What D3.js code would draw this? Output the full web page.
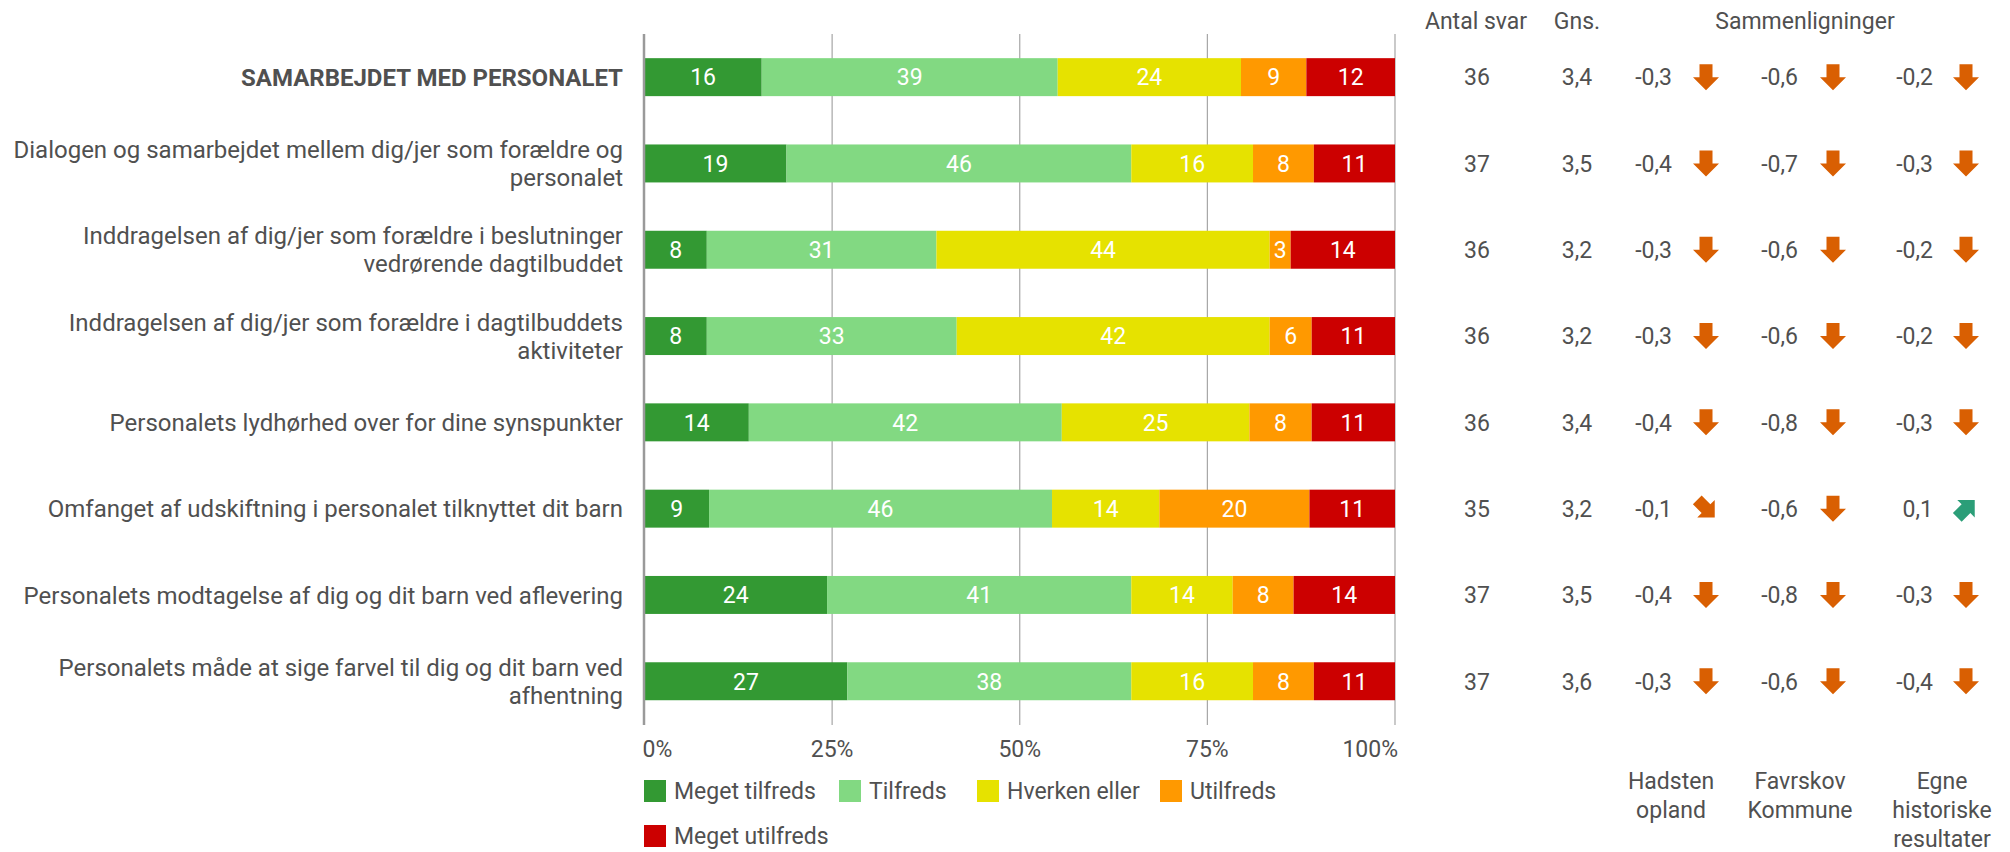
<!DOCTYPE html>
<html><head><meta charset="utf-8">
<script src="https://cdn.jsdelivr.net/npm/d3@7"></script>
<style>
body{margin:0;background:#fff;}
text{font-family:Roboto,"Noto Sans",sans-serif;}
</style></head>
<body>
<svg id="chart" width="2010" height="852"></svg>
<script>
const categories = [
  ["SAMARBEJDET MED PERSONALET"],
  ["Dialogen og samarbejdet mellem dig/jer som forældre og","personalet"],
  ["Inddragelsen af dig/jer som forældre i beslutninger","vedrørende dagtilbuddet"],
  ["Inddragelsen af dig/jer som forældre i dagtilbuddets","aktiviteter"],
  ["Personalets lydhørhed over for dine synspunkter"],
  ["Omfanget af udskiftning i personalet tilknyttet dit barn"],
  ["Personalets modtagelse af dig og dit barn ved aflevering"],
  ["Personalets måde at sige farvel til dig og dit barn ved","afhentning"]
];
const seriesNames = ["Meget tilfreds","Tilfreds","Hverken eller","Utilfreds","Meget utilfreds"];
// shares in percent (bar lengths; labels are rounded)
const megetTilfreds = [15.6,18.9,8.3,8.3,13.9,8.6,24.3,27.0];
const tilfreds      = [39.4,45.9,30.6,33.3,41.7,45.7,40.5,37.8];
const hverkenEller  = [24.4,16.2,44.4,41.7,25.0,14.3,13.5,16.2];
const utilfreds     = [8.7,8.1,2.8,5.6,8.3,20.0,8.1,8.1];
const megetUtilfreds= [11.8,10.8,13.9,11.1,11.1,11.4,13.5,10.8];
const antalSvar = [36,37,36,36,36,35,37,37];
const gns = ["3,4","3,5","3,2","3,2","3,4","3,2","3,5","3,6"];
const hadsten  = [-0.3,-0.4,-0.3,-0.3,-0.4,-0.1,-0.4,-0.3];
const favrskov = [-0.6,-0.7,-0.6,-0.6,-0.8,-0.6,-0.8,-0.6];
const egne     = [-0.2,-0.3,-0.2,-0.2,-0.3,0.1,-0.3,-0.4];
const compHeaders = [["Hadsten","opland"],["Favrskov","Kommune"],["Egne","historiske","resultater"]];
const xTicks = [0,0.25,0.5,0.75,1];
const xTickLabels = ["0%","25%","50%","75%","100%"];

const colors = ["#339933","#82d982","#e6e200","#ff9900","#cc0000"];
const textCol = "#505050";
const svg = d3.select("#chart");

const series = [megetTilfreds,tilfreds,hverkenEller,utilfreds,megetUtilfreds];
const rows = categories.map((c,i)=>{
  const vals = series.map(s=>s[i]);
  const tot = d3.sum(vals);
  let acc = 0;
  return {i, segs: vals.map((v,k)=>{const s={k,v,x0:acc/tot,x1:(acc+v)/tot}; acc+=v; return s;})};
});

const x = d3.scaleLinear().domain([0,1]).range([644.5,1395]);
const y = d3.scaleBand().domain(d3.range(categories.length)).range([34,724.4]).paddingInner(0.56).paddingOuter(0.28);
const bh = y.bandwidth();

// gridlines
svg.append("g").selectAll("line").data(xTicks.slice(1)).join("line")
  .attr("x1",d=>x(d)).attr("x2",d=>x(d)).attr("y1",34).attr("y2",725)
  .attr("stroke","#a6a6a6").attr("stroke-width",1.2);

// bars
const g = svg.append("g");
const rowG = g.selectAll("g").data(rows).join("g");
rowG.selectAll("rect").data(d=>d.segs.map(s=>({...s,i:d.i}))).join("rect")
  .attr("x",d=>x(d.x0)).attr("width",d=>x(d.x1)-x(d.x0))
  .attr("y",d=>y(d.i)).attr("height",bh).attr("fill",d=>colors[d.k]);
rowG.selectAll("text").data(d=>d.segs.map(s=>({...s,i:d.i}))).join("text")
  .attr("x",d=>(x(d.x0)+x(d.x1))/2).attr("y",d=>y(d.i)+bh/2).attr("dy","0.36em")
  .attr("text-anchor","middle").attr("fill","#fff").attr("font-size",23)
  .text(d=>Math.round(d.v));

// left axis line
svg.append("line").attr("x1",644).attr("x2",644).attr("y1",34).attr("y2",725)
  .attr("stroke","#9a9a9a").attr("stroke-width",2.5);

// x tick labels
svg.append("g").selectAll("text").data(xTicks).join("text")
  .attr("x",d=>x(d)+(d===0?-2:d===1?3:0)).attr("y",757)
  .attr("text-anchor",(d)=>d===0?"start":d===1?"end":"middle")
  .attr("fill",textCol).attr("font-size",23)
  .text((d,i)=>xTickLabels[i]);

// category labels
const lab = svg.append("g");
categories.forEach((lines,i)=>{
  const cy = y(i)+bh/2;
  const n = lines.length;
  lines.forEach((t,j)=>{
    lab.append("text").attr("x",623).attr("y",cy+(j-(n-1)/2)*28).attr("dy","0.36em")
      .attr("text-anchor","end").attr("fill",textCol).attr("font-size",24)
      .attr("font-weight",i===0?"bold":"normal").text(t);
  });
});

// headers
const hdr = [["Antal svar",1476],["Gns.",1577],["Sammenligninger",1805]];
svg.append("g").selectAll("text").data(hdr).join("text")
  .attr("x",d=>d[1]).attr("y",29).attr("text-anchor","middle")
  .attr("fill",textCol).attr("font-size",23).text(d=>d[0]);

// antal & gns
svg.append("g").selectAll("text").data(antalSvar).join("text")
  .attr("x",1477).attr("y",(d,i)=>y(i)+bh/2).attr("dy","0.36em").attr("text-anchor","middle")
  .attr("fill",textCol).attr("font-size",23).text(d=>d);
svg.append("g").selectAll("text").data(gns).join("text")
  .attr("x",1577).attr("y",(d,i)=>y(i)+bh/2).attr("dy","0.36em").attr("text-anchor","middle")
  .attr("fill",textCol).attr("font-size",23).text(d=>d);

// comparisons
const fmt = v => (v<0?"-":"") + Math.abs(v).toFixed(1).replace(".",",");
const comps = [hadsten,favrskov,egne];
const valX = [1672,1798,1933];
const arrX = [1706,1833,1966];
const arrowPath = "M-6.5,-13 L6.5,-13 L6.5,0 L13,0 L0,13 L-13,0 L-6.5,0 Z";
comps.forEach((arr,c)=>{
  const cg = svg.append("g");
  cg.selectAll("text").data(arr).join("text")
    .attr("x",valX[c]).attr("y",(d,i)=>y(i)+bh/2).attr("dy","0.36em").attr("text-anchor","end")
    .attr("fill",textCol).attr("font-size",23).text(d=>fmt(d));
  cg.selectAll("path").data(arr).join("path")
    .attr("d",arrowPath)
    .attr("transform",(d,i)=>{
      const rot = d>0 ? -135 : (d>-0.15 ? -45 : 0);
      const sc = rot===0?1:0.95;
      return `translate(${arrX[c]},${y(i)+bh/2}) rotate(${rot}) scale(${sc})`;
    })
    .attr("fill",d=>d>0?"#2b9e78":"#d95f02");
  compHeaders[c].forEach((t,j)=>{
    svg.append("text").attr("x",[1671,1800,1942][c]).attr("y",781+j*28.7).attr("dy","0.36em")
      .attr("text-anchor","middle").attr("fill",textCol).attr("font-size",23).text(t);
  });
});

// legend
const legPos = [[644,780],[839,780],[977,780],[1160,780],[644,825]];
const leg = svg.append("g");
seriesNames.forEach((n,k)=>{
  const [lx,ly] = legPos[k];
  leg.append("rect").attr("x",lx).attr("y",ly).attr("width",22).attr("height",22).attr("fill",colors[k]);
  leg.append("text").attr("x",lx+30).attr("y",ly+11).attr("dy","0.36em")
    .attr("fill",textCol).attr("font-size",23).text(n);
});
</script>
</body></html>
